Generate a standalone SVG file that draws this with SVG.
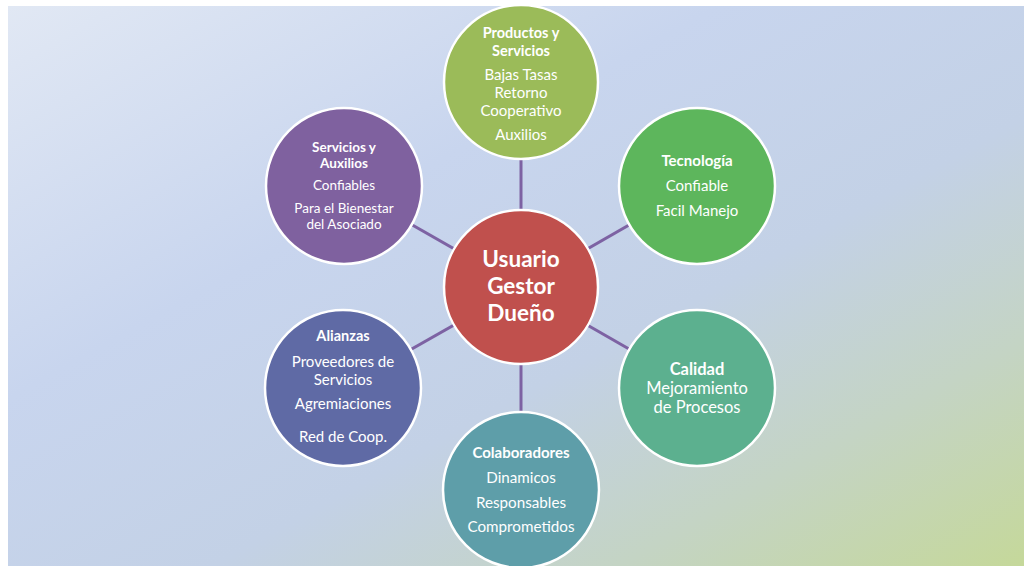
<svg xmlns="http://www.w3.org/2000/svg" width="1024" height="566" viewBox="0 0 1024 566">
<defs>
<linearGradient id="bg" x1="0" y1="0" x2="1" y2="1" gradientUnits="objectBoundingBox">
<stop offset="0" stop-color="#e1e8f4"/>
<stop offset="0.35" stop-color="#c8d5ee"/>
<stop offset="0.6" stop-color="#c3d1e6"/>
<stop offset="0.8" stop-color="#c4d4c4"/>
<stop offset="1" stop-color="#c5d89a"/>
</linearGradient>
<style>
.node circle{stroke:#ffffff;stroke-width:2.5}
text{font-family:Lato,"Liberation Sans",sans-serif;fill:#ffffff;text-anchor:middle}
.b{font-weight:bold}
.conn line{stroke:#7d62a3;stroke-width:3}
</style>
</defs>
<rect x="0" y="0" width="1024" height="566" fill="#ffffff"/>
<rect x="8" y="6" width="1016" height="560" fill="url(#bg)"/>
<g id="connectors" class="conn">
<line x1="521" y1="287" x2="521" y2="80"/>
<line x1="521" y1="287" x2="344" y2="186"/>
<line x1="521" y1="287" x2="697" y2="186"/>
<line x1="521" y1="287" x2="343" y2="388"/>
<line x1="521" y1="287" x2="697" y2="388"/>
<line x1="521" y1="287" x2="521" y2="490"/>
</g>
<g id="center" class="node">
<circle cx="521" cy="287" r="77" fill="#c0504d"/>
<text class="b" font-size="22.5" x="521" y="267">Usuario</text>
<text class="b" font-size="22.5" x="521" y="294">Gestor</text>
<text class="b" font-size="22.5" x="521" y="321">Dueño</text>
</g>
<g id="productos" class="node">
<circle cx="521" cy="82" r="77" fill="#9bbb59"/>
<text class="b" font-size="14.5" x="521" y="38">Productos y</text>
<text class="b" font-size="14.5" x="521" y="56">Servicios</text>
<text font-size="15" x="521" y="80">Bajas Tasas</text>
<text font-size="15" x="521" y="98">Retorno</text>
<text font-size="15" x="521" y="116">Cooperativo</text>
<text font-size="15" x="521" y="140">Auxilios</text>
</g>
<g id="servicios" class="node">
<circle cx="344" cy="186" r="78" fill="#7f619f"/>
<text class="b" font-size="13.5" x="344" y="152">Servicios y</text>
<text class="b" font-size="13.5" x="344" y="168">Auxilios</text>
<text font-size="13.5" x="344" y="190">Confiables</text>
<text font-size="13.5" x="344" y="213">Para el Bienestar</text>
<text font-size="13.5" x="344" y="229">del Asociado</text>
</g>
<g id="tecnologia" class="node">
<circle cx="697" cy="186" r="78" fill="#5db65c"/>
<text class="b" font-size="15" x="697" y="166">Tecnología</text>
<text font-size="15" x="697" y="191">Confiable</text>
<text font-size="15" x="697" y="216">Facil Manejo</text>
</g>
<g id="alianzas" class="node">
<circle cx="343" cy="388" r="78" fill="#5f6aa5"/>
<text class="b" font-size="14.5" x="343" y="341">Alianzas</text>
<text font-size="15" x="343" y="367">Proveedores de</text>
<text font-size="15" x="343" y="385">Servicios</text>
<text font-size="15" x="343" y="409">Agremiaciones</text>
<text font-size="15" x="343" y="442">Red de Coop.</text>
</g>
<g id="calidad" class="node">
<circle cx="697" cy="388" r="78" fill="#5cb08f"/>
<text class="b" font-size="16.5" x="697" y="375">Calidad</text>
<text font-size="16.5" x="697" y="394">Mejoramiento</text>
<text font-size="16.5" x="697" y="413">de Procesos</text>
</g>
<g id="colaboradores" class="node">
<circle cx="521" cy="490" r="78" fill="#5e9ea9"/>
<text class="b" font-size="15" x="521" y="458">Colaboradores</text>
<text font-size="15.2" x="521" y="483">Dinamicos</text>
<text font-size="15.2" x="521" y="508">Responsables</text>
<text font-size="15.2" x="521" y="532">Comprometidos</text>
</g>
</svg>
